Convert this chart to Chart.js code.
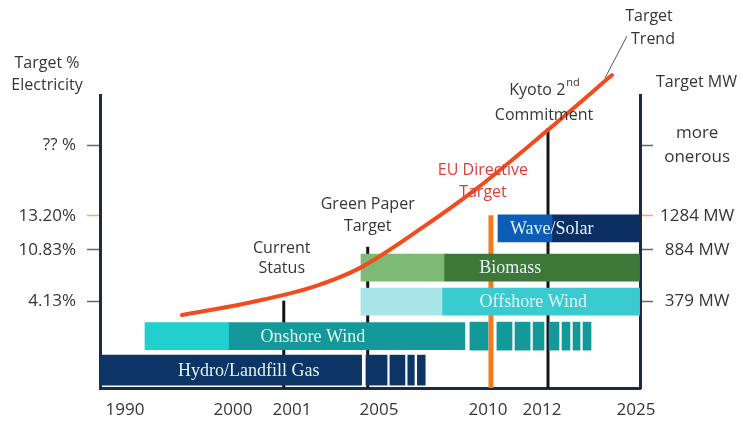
<!DOCTYPE html>
<html lang="en">
<head>
<meta charset="UTF-8">
<title>Renewable Energy Targets Timeline</title>
<script src="https://cdn.jsdelivr.net/npm/chart.js"></script>
<style>
  body { margin: 0; background: #fff; }
  #wrap { width: 743px; height: 421px; position: relative; }
</style>
</head>
<body>
<div id="wrap"><canvas id="chart"></canvas></div>
<script>
// years labelled on the (not to scale) time axis
const yearTicks = [1990, 2000, 2001, 2005, 2010, 2012, 2025];

// target levels, schematic units (0 = baseline)
const targetLevels = [29.5, 47.1, 58.8, 82.9];
const targetPct = ['4.13%', '10.83%', '13.20%', '?? %'];
const targetMW = ['379 MW', '884 MW', '1284 MW', ['more', 'onerous']];

// technology rows, bottom to top
const rows = ['Hydro/Landfill Gas', 'Onshore Wind', 'Offshore Wind', 'Biomass', 'Wave/Solar'];
const rowLevel = [6.1, 17.7, 29.5, 41.1, 54.5];
const rowStart = [1987.7, 1991.85, 2004.17, 2004.17, 2010.37];
const rowSplit = [1987.7, 1999.58, 2007.89, 2007.98, 2013.38];   // light part -> dark part
const rowEnd = [2004.2, 2008.94, 2025.5, 2025.5, 2025.5];

// the tapering blocks after hydro and onshore wind
const hydroBlocks = [[2004.40, 2005.37], [2005.50, 2006.19], [2006.32, 2006.62], [2006.76, 2007.12]];
const onshoreBlocks = [[2009.17, 2010.0], [2010.33, 2010.89], [2011.0, 2011.56], [2011.67, 2012.28],
  [2012.97, 2014.35], [2014.77, 2015.87], [2016.29, 2017.26], [2017.67, 2018.78]];

// milestones (vertical markers)
const milestoneYear = [2000.86, 2004.48, 2010.11, 2012.83];
const milestoneTop = [29.8, 48.2, 59.0, 88.7];
const milestoneText = [['Current', 'Status'], ['Green Paper', 'Target'], ['EU Directive', 'Target'], ['Kyoto 2nd', 'Commitment']];

// target trend curve
const trendYear = [1995.28, 2000.29, 2001.97, 2004.13, 2007.02, 2009.40, 2012.83, 2021.68];
const trendLevel = [24.9, 29.2, 34.5, 41.0, 54.9, 67.6, 88.1, 106.8];

const lightColors = [null, '#22cfcf', '#a8e4e8', '#7dba75', '#0c5db6'];
const darkColors = ['#0c3565', '#14999a', '#3acbd0', '#3e7839', '#0c2f63'];
const axisColor = '#1d2b45';
const textColor = '#363636';

// linear scale whose year spacing follows hand-placed stops
const LinearScale = Chart.registry.getScale('linear');
class StepYearScale extends LinearScale {
  getPixelForValue(value) {
    const s = this.options.stops;
    if (value === null || value === undefined || isNaN(value)) return NaN;
    let i = 1;
    while (i < s.length - 1 && value > s[i][0]) i++;
    const [v0, f0] = s[i - 1], [v1, f1] = s[i];
    return this.getPixelForDecimal(f0 + (value - v0) / (v1 - v0) * (f1 - f0));
  }
  getValueForPixel(pixel) {
    const s = this.options.stops;
    const d = this.getDecimalForPixel(pixel);
    let i = 1;
    while (i < s.length - 1 && d > s[i][1]) i++;
    const [v0, f0] = s[i - 1], [v1, f1] = s[i];
    return v0 + (d - f0) / (f1 - f0) * (v1 - v0);
  }
}
StepYearScale.id = 'stepyear';
StepYearScale.defaults = {};
Chart.register(StepYearScale);

const lightRows = rows.map((r, i) => i).filter(i => rowSplit[i] > rowStart[i]);

const datasets = [
  {
    type: 'line', label: 'Target Trend', order: 0,
    data: trendYear.map((v, i) => ({ x: v, y: trendLevel[i] })),
    borderColor: '#f24b1d', borderWidth: 4, pointRadius: 0,
    cubicInterpolationMode: 'monotone', clip: false, borderCapStyle: 'round'
  },
  {
    label: rows[0], order: 1, indexAxis: 'y', grouped: false, barThickness: 30,
    data: [{ x: [rowStart[0], rowEnd[0]], y: rowLevel[0] }].concat(hydroBlocks.map(b => ({ x: b, y: rowLevel[0] }))),
    backgroundColor: darkColors[0]
  },
  {
    label: 'early', order: 1, indexAxis: 'y', grouped: false, barThickness: 27,
    data: lightRows.map(i => ({ x: [rowStart[i], rowSplit[i]], y: rowLevel[i] })),
    backgroundColor: lightRows.map(i => lightColors[i])
  },
  {
    label: 'target', order: 1, indexAxis: 'y', grouped: false, barThickness: 27,
    data: lightRows.map(i => ({ x: [rowSplit[i], rowEnd[i]], y: rowLevel[i] })),
    backgroundColor: lightRows.map(i => darkColors[i])
  },
  {
    label: 'onshore blocks', order: 1, indexAxis: 'y', grouped: false, barThickness: 28,
    data: onshoreBlocks.map(b => ({ x: b, y: rowLevel[1] })),
    backgroundColor: darkColors[1]
  }
].concat(milestoneYear.map((yr, i) => ({
  type: 'line', label: milestoneText[i].join(' '), order: 2,
  data: [{ x: yr, y: 0 }, { x: yr, y: milestoneTop[i] }],
  borderColor: i === 2 ? '#f27b20' : '#141414', borderWidth: i === 2 ? 5 : 3,
  pointRadius: 0, borderCapStyle: 'butt'
})));
datasets.forEach(d => { d.xAxisID = 'x'; d.yAxisID = 'y'; d.borderWidth = d.borderWidth || 0; });

function drawText(ctx, text, cx, cy) {
  const m = text.match(/^(.*\d)(st|nd|rd|th)$/);
  if (!m) { ctx.fillText(text, cx, cy); return; }
  const font = ctx.font;
  const wb = ctx.measureText(m[1]).width;
  ctx.font = font.replace(/\d+px/, '11px');
  const ws = ctx.measureText(m[2]).width;
  ctx.font = font;
  const left = cx - (wb + ws) / 2;
  ctx.textAlign = 'left';
  ctx.fillText(m[1], left, cy);
  ctx.font = font.replace(/\d+px/, '11px');
  ctx.fillText(m[2], left + wb + 1, cy - 7);
  ctx.font = font;
  ctx.textAlign = 'center';
}

const notes = {
  id: 'notes',
  afterDraw(chart, args, o) {
    const { ctx, chartArea: a, scales: { x, y, yL, yR } } = chart;
    ctx.save();
    ctx.textAlign = 'center';
    ctx.textBaseline = 'middle';

    // names inside the bars
    ctx.font = '18px "Liberation Serif"';
    ctx.fillStyle = '#e4f2f2';
    rows.forEach((name, i) => {
      const cx = (x.getPixelForValue(rowStart[i]) + x.getPixelForValue(rowEnd[i])) / 2 + o.rowShift[i];
      ctx.fillText(name, cx, y.getPixelForValue(rowLevel[i]) + 1);
    });

    // milestone captions
    ctx.font = '16px "Open Sans"';
    milestoneText.forEach((lines, i) => {
      const mx = x.getPixelForValue(milestoneYear[i]) + o.capShift[i];
      const base = y.getPixelForValue(milestoneTop[i]) - o.capLift[i];
      ctx.fillStyle = i === 2 ? '#dc3d3a' : textColor;
      lines.forEach((t, k) => drawText(ctx, t, mx, base - (lines.length - 1 - k) * o.capGap[i]));
    });

    // axis titles
    ctx.fillStyle = textColor;
    const lx = yL.left + yL.width / 2 - 3;
    ctx.fillText('Target %', lx, a.top - 32);
    ctx.fillText('Electricity', lx, a.top - 10);
    ctx.fillText('Target MW', yR.left + yR.width / 2 + 5, a.top - 13);

    // trend call-out
    const pts = chart.getDatasetMeta(0).data;
    const end = pts[pts.length - 1];
    ctx.strokeStyle = '#555';
    ctx.lineWidth = 1;
    ctx.beginPath();
    ctx.moveTo(end.x - 7, end.y + 3);
    ctx.lineTo(end.x + 15, end.y - 39);
    ctx.stroke();
    ctx.fillText('Target', end.x + 37, end.y - 59);
    ctx.fillText('Trend', end.x + 41, end.y - 36);
    ctx.restore();
  }
};

const tickFont = { family: 'Open Sans', size: 17 };

new Chart(document.getElementById('chart'), {
  type: 'bar',
  data: { datasets },
  options: {
    responsive: true,
    maintainAspectRatio: false,
    animation: false,
    layout: { padding: { top: 95, left: 0, right: 0, bottom: 0 } },
    plugins: {
      legend: { display: false },
      tooltip: { enabled: false },
      notes: {
        rowShift: [18, 8, 33, 10, -17],
        capShift: [-2, 0, -8, -4],
        capLift: [32, 20, 23, 13],
        capGap: [20, 22, 22, 25]
      }
    },
    scales: {
      x: {
        type: 'stepyear', axis: 'x', position: 'bottom', offset: false,
        min: 1987.7, max: 2025.55,
        stops: [[1987.7, 0], [1990, 0.0463], [2000, 0.2463], [2001, 0.3556], [2005, 0.5167],
                [2010, 0.7185], [2012, 0.8185], [2025, 0.9926], [2025.55, 1]],
        afterBuildTicks: s => { s.ticks = yearTicks.map(v => ({ value: v })); },
        afterFit: s => { s.height = 33; },
        ticks: { autoSkip: false, maxRotation: 0, padding: 12, font: tickFont, color: textColor, callback: v => String(v) },
        grid: { display: false, drawTicks: false },
        border: { display: true, color: axisColor, width: 3 }
      },
      y: { type: 'linear', axis: 'y', min: 0, max: 100, display: false, offset: false },
      yL: {
        type: 'linear', axis: 'y', position: 'left', min: 0, max: 100,
        afterBuildTicks: s => { s.ticks = targetLevels.map(v => ({ value: v })); },
        afterFit: s => { s.width = 100; },
        ticks: { autoSkip: false, padding: 11, font: tickFont, color: textColor, callback: (v, i) => targetPct[i] },
        grid: { drawOnChartArea: false, tickLength: 13, tickWidth: 1.5, tickColor: c => c.index === 2 ? '#f4a57c' : '#666' },
        border: { color: axisColor, width: 3 }
      },
      yR: {
        type: 'linear', axis: 'y', position: 'right', min: 0, max: 100,
        afterBuildTicks: s => { s.ticks = targetLevels.map(v => ({ value: v })); },
        afterFit: s => { s.width = 103; },
        ticks: { autoSkip: false, padding: 7, crossAlign: 'center', font: { family: 'Open Sans', size: 17, lineHeight: 1.4 }, color: textColor, callback: (v, i) => targetMW[i] },
        grid: { drawOnChartArea: false, tickLength: 13, tickWidth: 1.5, tickColor: c => c.index === 2 ? '#f4a57c' : '#666' },
        border: { color: axisColor, width: 3 }
      }
    }
  },
  plugins: [notes]
});
</script>
</body>
</html>
